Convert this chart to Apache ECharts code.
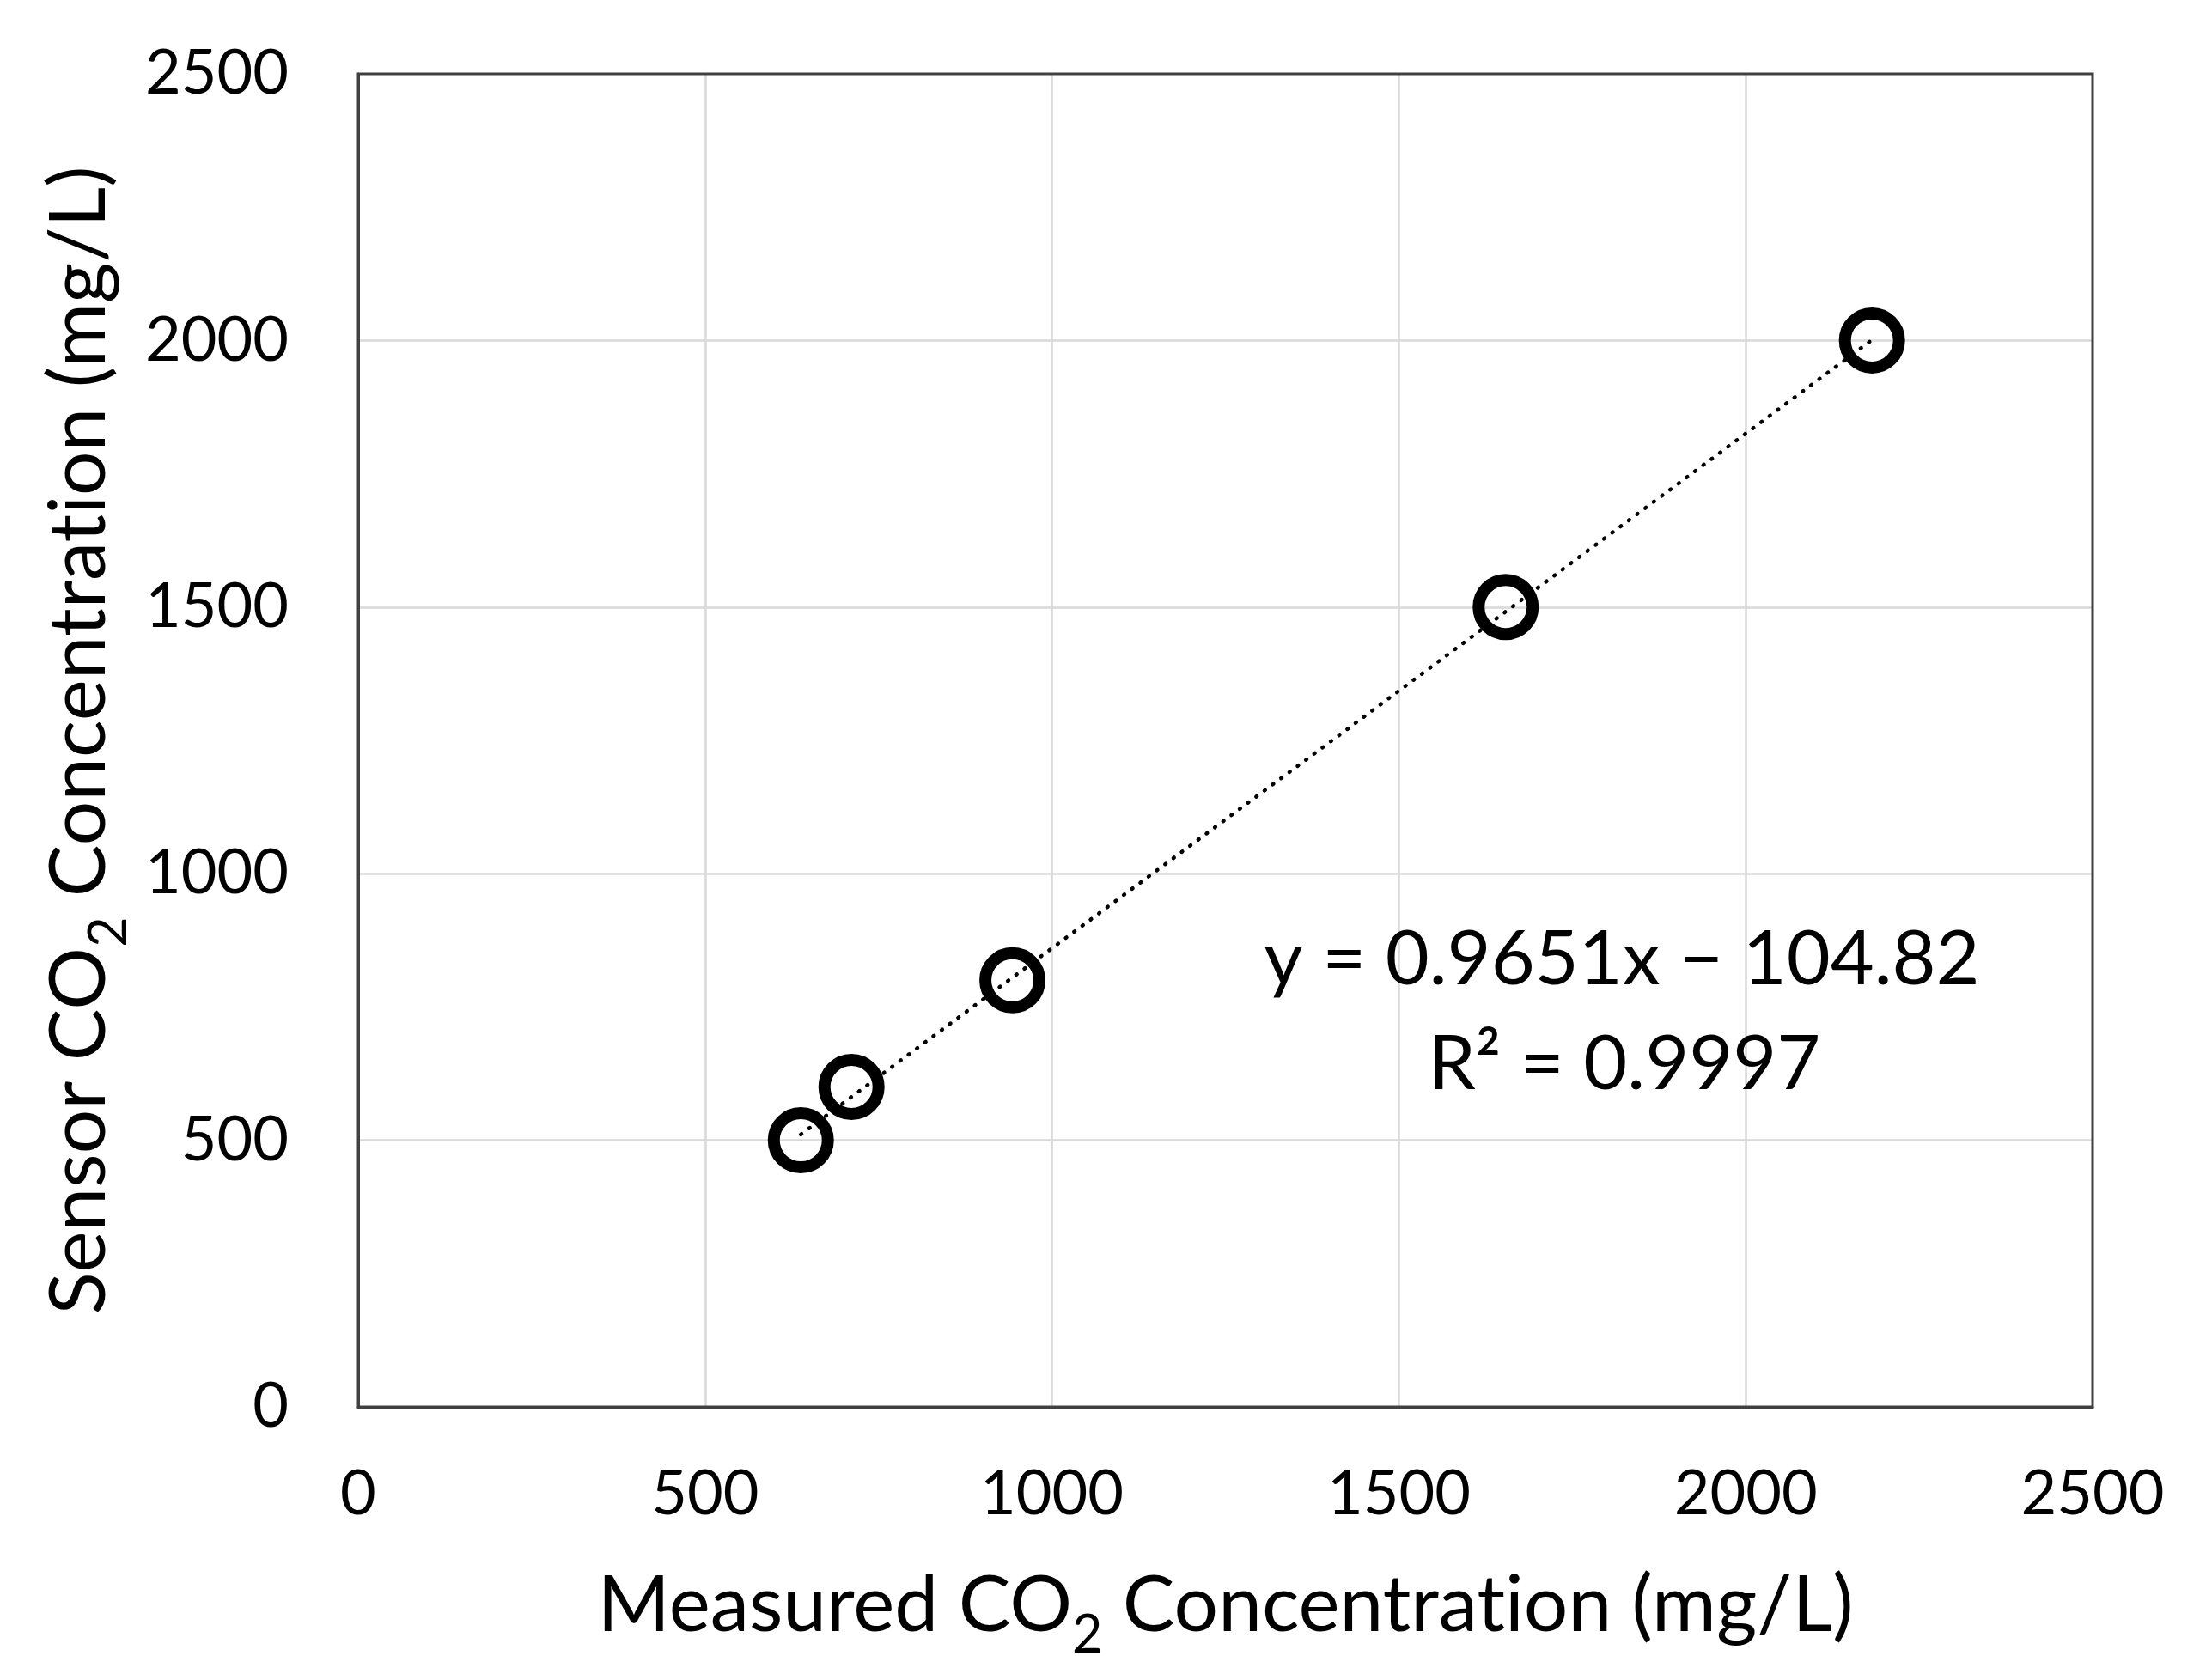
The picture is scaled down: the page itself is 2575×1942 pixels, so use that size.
<!DOCTYPE html>
<html>
<head>
<meta charset="utf-8">
<script src="https://cdn.jsdelivr.net/npm/echarts@6/dist/echarts.min.js"></script>
<style>
html,body{margin:0;padding:0;background:#fff;}
#chart{width:2575px;height:1942px;}
</style>
</head>
<body>
<div id="chart"></div>
<script>
// ---- data ----
const measuredCO2 = [638, 711, 943, 1654, 2182];   // x (mg/L)
const sensorCO2   = [500, 600, 800, 1500, 2000];   // y (mg/L)
const axisTicks   = [0, 500, 1000, 1500, 2000, 2500];
const trendSlope = 0.9651;
const trendIntercept = -104.82;
const equationText = 'y = 0.9651x \u2212 104.82';
const r2Text = 'R\u00B2 = 0.9997';

// disable font ligatures (reference text has none)
(function () {
  const P = CanvasRenderingContext2D.prototype;
  const of = P.fillText, om = P.measureText;
  P.fillText = function () { try { this.textRendering = 'optimizeSpeed'; } catch (e) {} return of.apply(this, arguments); };
  P.measureText = function () { try { this.textRendering = 'optimizeSpeed'; } catch (e) {} return om.apply(this, arguments); };
})();

const points = measuredCO2.map((x, i) => [x, sensorCO2[i]]);
const xMin = Math.min(...measuredCO2), xMax = Math.max(...measuredCO2);
const trend = [[xMin, trendSlope * xMin + trendIntercept], [xMax, trendSlope * xMax + trendIntercept]];

const FONT = 'Lato, "Open Sans", sans-serif';
const TICK = 72, TITLE = 91, SUB = 61;

const titleRich = {
  a: { fontSize: TITLE, fontFamily: FONT, color: '#000' },
  sub: { fontSize: SUB, fontFamily: FONT, color: '#000', lineHeight: SUB, padding: [69, 0, 0, 0] }
};

const fmt = v => String(v);

const chart = echarts.init(document.getElementById('chart'), null, { renderer: 'canvas' });
chart.setOption({
  backgroundColor: '#ffffff',
  animation: false,
  grid: {
    left: 417, right: 139, top: 86, bottom: 304,
    show: true, borderColor: '#404040', borderWidth: 3, backgroundColor: 'transparent', z: 5
  },
  xAxis: {
    type: 'value', min: axisTicks[0], max: axisTicks[axisTicks.length - 1], interval: axisTicks[1] - axisTicks[0],
    axisLine: { show: true, onZero: false, lineStyle: { color: '#404040', width: 3 } }, axisTick: { show: false },
    splitLine: { show: true, showMinLine: false, showMaxLine: false, lineStyle: { color: '#d9d9d9', width: 2.5 } },
    axisLabel: { fontSize: TICK, fontFamily: FONT, color: '#000', margin: 66, formatter: fmt },
    name: '{a|Measured CO}{sub|2}{a| Concentration (mg/L)}',
    nameLocation: 'middle', nameGap: 186,
    nameTextStyle: { rich: titleRich }
  },
  yAxis: {
    type: 'value', min: axisTicks[0], max: axisTicks[axisTicks.length - 1], interval: axisTicks[1] - axisTicks[0],
    axisLine: { show: true, onZero: false, lineStyle: { color: '#404040', width: 3 } }, axisTick: { show: false },
    splitLine: { show: true, showMinLine: false, showMaxLine: false, lineStyle: { color: '#d9d9d9', width: 2.5 } },
    axisLabel: { fontSize: TICK, fontFamily: FONT, color: '#000', margin: 81, formatter: fmt },
    name: '{a|Sensor CO}{sub|2}{a| Concentration (mg/L)}',
    nameLocation: 'middle', nameGap: 216, nameRotate: 90,
    nameTextStyle: { rich: titleRich }
  },
  series: [
    {
      type: 'line', data: trend, symbol: 'none', silent: true, z: 2,
      lineStyle: { color: '#000', width: 4.5, type: [1, 11], cap: 'round' }
    },
    {
      type: 'scatter', data: points, symbol: 'circle', symbolSize: 63, z: 3,
      itemStyle: { color: 'rgba(0,0,0,0)', borderColor: '#000', borderWidth: 14, opacity: 1 }
    }
  ],
  graphic: [
    { type: 'text', x: 1888, y: 1118, z: 10,
      style: { text: equationText, font: '88px ' + FONT, fill: '#000', textAlign: 'center', textVerticalAlign: 'middle' } },
    { type: 'text', x: 1891, y: 1240, z: 10,
      style: { text: r2Text, font: '88px ' + FONT, fill: '#000', textAlign: 'center', textVerticalAlign: 'middle' } }
  ]
});
</script>
</body>
</html>
